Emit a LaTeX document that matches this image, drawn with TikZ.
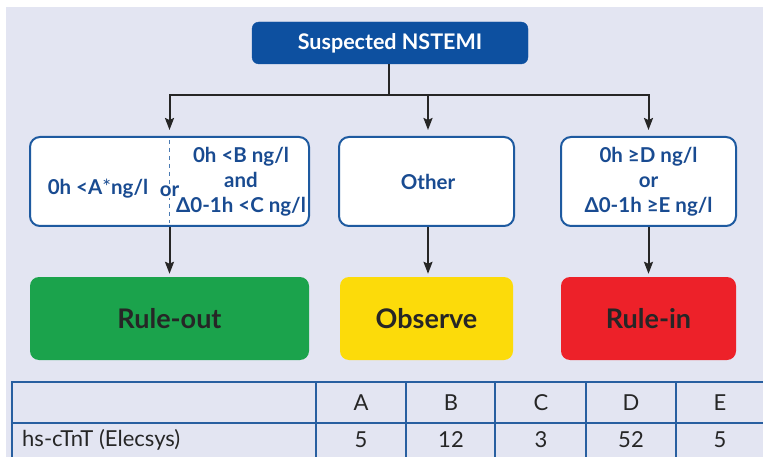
\documentclass[tikz,border=0pt]{standalone}
\usepackage{fontspec}
\setmainfont{Lato}
\usetikzlibrary{arrows.meta}

\definecolor{bgcol}{RGB}{227,229,242}
\definecolor{navy}{RGB}{13,80,160}
\definecolor{boxline}{RGB}{30,90,160}
\definecolor{boxtext}{RGB}{25,75,145}
\definecolor{okgreen}{RGB}{27,163,76}
\definecolor{obsyellow}{RGB}{252,219,10}
\definecolor{alertred}{RGB}{237,33,41}
\definecolor{tabline}{RGB}{40,95,160}

\begin{document}
\begin{tikzpicture}[x=1pt,y=1pt,yscale=-1,
    headbox/.style={draw=navy,fill=navy,rounded corners=7pt,inner sep=0pt,text=white,
      font=\fontsize{21.5}{24}\selectfont\bfseries,minimum width=276pt,minimum height=42pt},
    critbox/.style={draw=boxline,line width=2pt,fill=white,rounded corners=10pt,inner sep=0pt,minimum height=89pt},
    crittext/.style={text=boxtext,font=\fontsize{20.5}{25}\selectfont\bfseries,align=center,inner sep=1pt},
    outbox/.style={rounded corners=9pt,inner sep=0pt,minimum height=83pt,text=black!85,
      font=\fontsize{27}{30}\selectfont\bfseries},
    link/.style={line width=2pt,black!85},
    arr/.style={link,-{Stealth[length=12pt,width=9pt,inset=2pt]}},
    cellfont/.style={font=\fontsize{22}{25}\selectfont,text=black!85,inner sep=0pt}]

        %uncomment if require: \path (0,457); %diagram is 763 wide and 457 high
        \useasboundingbox (0,0) rectangle (763,457);
        \fill[white] (0,0) rectangle (763,457);
        %Shape: Rectangle [background]
        \fill[bgcol] (6,7) rectangle (763,457);

        %Shape: top box
        \node[headbox] (susp) at (390,43) {Suspected NSTEMI};

        %Shape: criteria boxes
        \node[critbox,minimum width=279pt] (critout) at (169.5,181.5) {};
        \node[critbox,minimum width=175pt] (critobs) at (426.5,181.5) {};
        \node[critbox,minimum width=175pt] (critin) at (648.5,181.5) {};

        %Shape: result boxes
        \node[outbox,fill=okgreen,minimum width=279pt] (ruleout) at (169.5,318.5) {Rule-out};
        \node[outbox,fill=obsyellow,minimum width=173pt] (observe) at (426.5,318.5) {Observe};
        \node[outbox,fill=alertred,minimum width=175pt] (rulein) at (648.5,318.5) {Rule-in};

        %Straight Lines: splitting tree
        \coordinate (split) at (389,95);
        \coordinate (lsplit) at (169.5,95);
        \coordinate (msplit) at (428,95);
        \coordinate (rsplit) at (648.5,95);
        \draw[link] (susp.south -| split) -- (split);
        \draw[link,line cap=rect] (lsplit) -- (rsplit);
        \draw[arr,shorten >=6pt] (lsplit) -- (critout.north);
        \draw[arr,shorten >=6pt] (msplit) -- (msplit |- critobs.north);
        \draw[arr,shorten >=6pt] (rsplit) -- (critin.north);

        %Straight Lines: criteria to result
        \draw[arr,shorten >=3pt] (critout.south) -- (ruleout.north);
        \draw[arr,shorten >=3pt] (msplit |- critobs.south) -- (msplit |- observe.north);
        \draw[arr,shorten >=3pt] (critin.south) -- (rulein.north);

        %Dashed divider in rule-out criteria
        \draw[boxline!80,line width=1.8pt,dash pattern=on 4pt off 4pt,shorten <=4pt,shorten >=4pt] (critout.north) -- (critout.south);

        % Text Node
        \node[crittext] (crita) at (98,189) {0h <A\textmd{*}ng/l};
        % Text Node
        \node[crittext,fill=white,inner sep=2pt] (critor) at (169.5,191) {or};
        % Text Node
        \node[crittext] (critbc) at (241,182) {0h <B ng/l\\and\\Δ0-1h <C ng/l};
        % Text Node
        \node[crittext] (critother) at (428,182) {Other};
        % Text Node
        \node[crittext] (critde) at (648.5,182) {0h ≥D ng/l\\or\\Δ0-1h ≥E ng/l};

        %Straight Lines: table
        \draw[tabline,line width=2pt] (12,382) -- (763,382);
        \draw[tabline,line width=2pt] (12,423) -- (763,423);
        \foreach \cx in {12,316,406,495,586,676}
          \draw[tabline,line width=2pt] (\cx,381) -- (\cx,458);

        % Text Node
        \foreach \lbl/\cx in {A/361,B/451,C/541,D/631,E/720}
          \node[cellfont] (head\lbl) at (\cx,403) {\lbl};
        % Text Node
        \node[cellfont,anchor=west] (assay) at (22,440) {hs-cTnT (Elecsys)};
        % Text Node
        \foreach \val/\cx [count=\i] in {5/361,12/451,3/541,52/631,5/720}
          \node[cellfont] (val\i) at (\cx,440) {\val};

    \end{tikzpicture}
\end{document}
